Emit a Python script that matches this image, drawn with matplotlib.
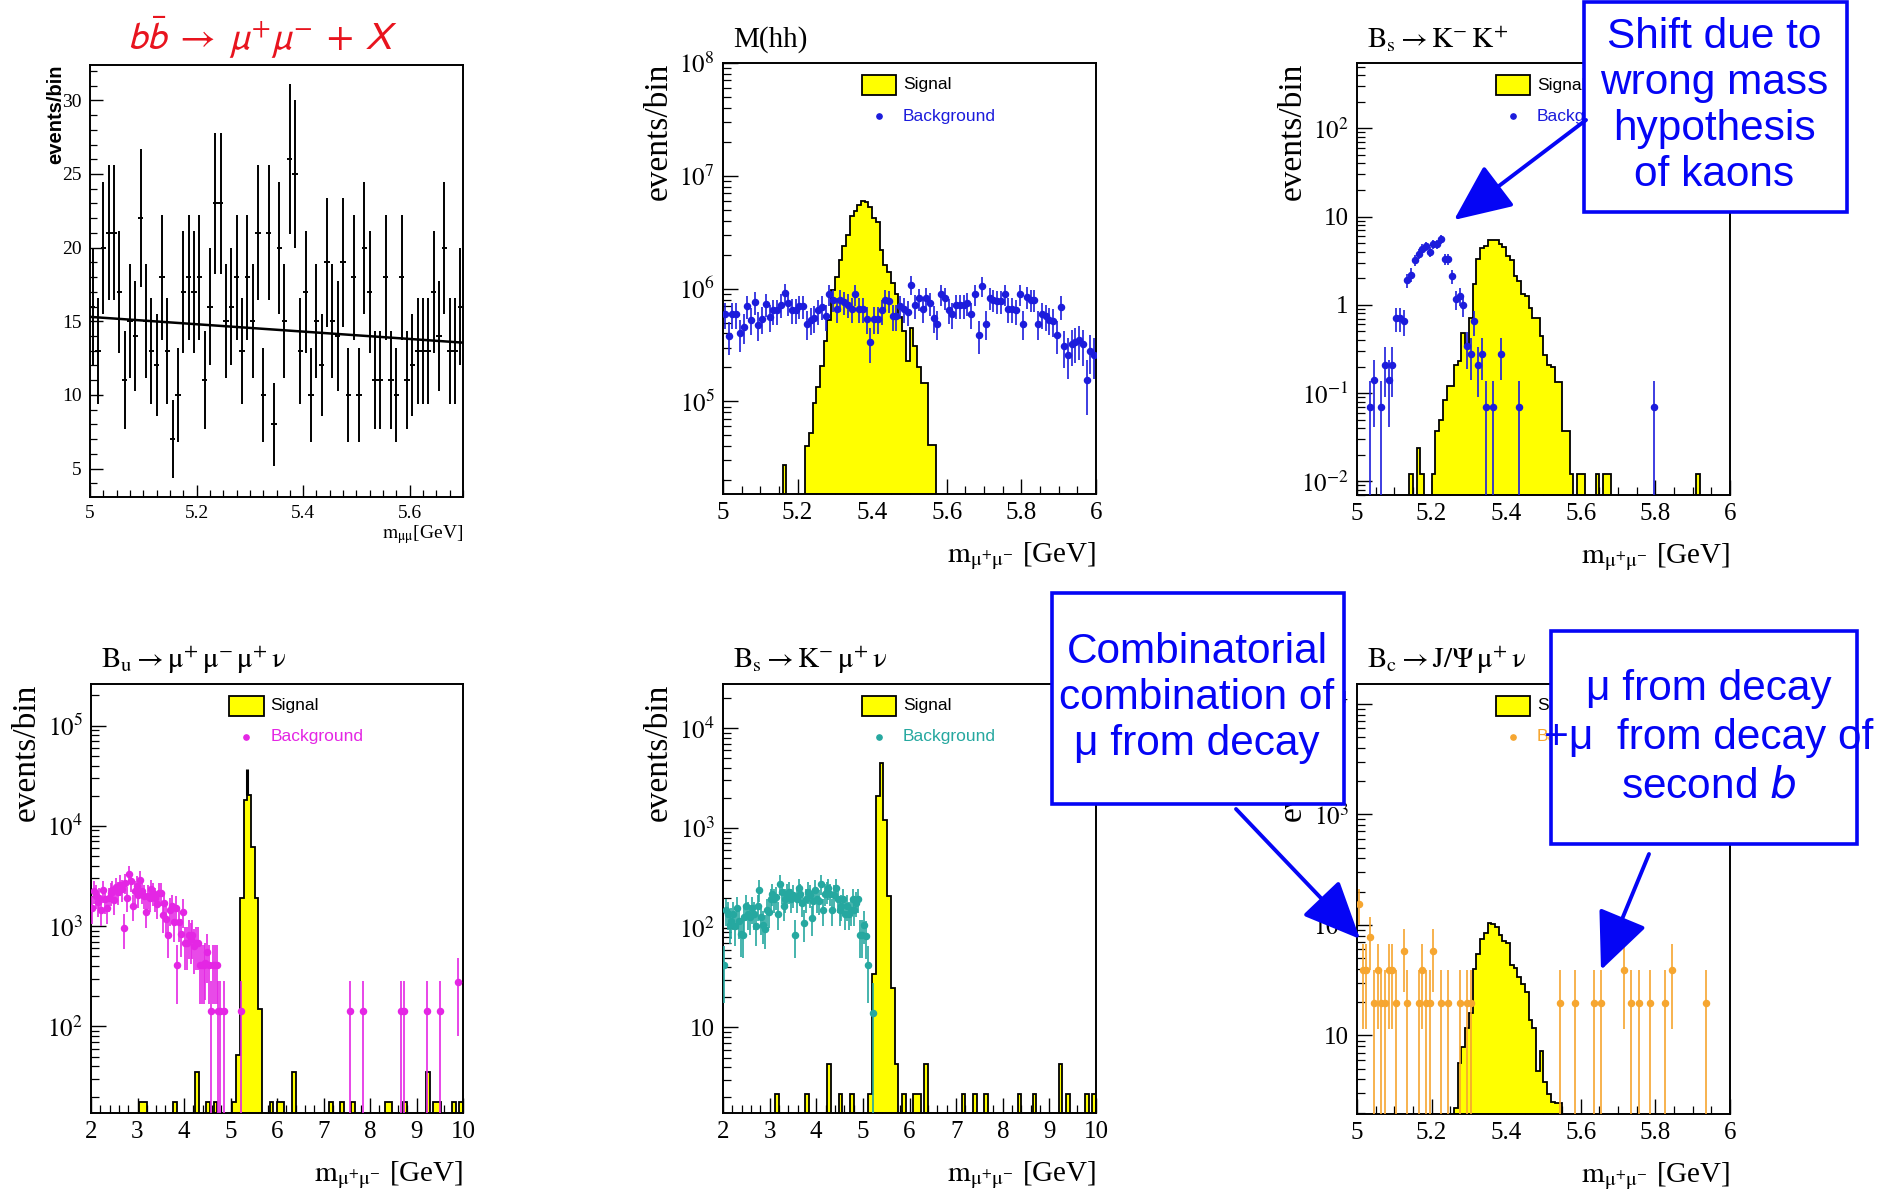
import numpy as np
import matplotlib
matplotlib.use("Agg")
import matplotlib.pyplot as plt
from matplotlib.patches import Rectangle, FancyArrowPatch
from matplotlib.ticker import MultipleLocator, LogLocator, FuncFormatter, NullFormatter, FormatStrFormatter

plt.rcParams['font.family'] = ['Liberation Serif', 'DejaVu Serif']
plt.rcParams['mathtext.fontset'] = 'stix'

# ------------------------------------------------------------------ data
# b bbar -> mu+ mu- + X : events per 0.01 GeV bin from 5.00 to 5.70 GeV
bb_lo, bb_width = 5.0, 0.01
bb_counts = [16, 13, 20, 21, 21, 17, 11, 15, 14, 22,
             15, 13, 12, 18, 13, 7, 10, 17, 18, 17,
             18, 11, 16, 23, 23, 15, 16, 18, 13, 18,
             15, 21, 10, 21, 8, 20, 15, 26, 25, 13,
             17, 10, 15, 12, 19, 15, 14, 19, 10, 18,
             10, 20, 17, 11, 11, 18, 11, 10, 18, 11,
             12, 13, 13, 13, 17, 14, 20, 13, 13, 16]
bb_fit_p0, bb_fit_p1 = 15.3, -2.5          # linear fit: p0 + p1 * (m - 5 GeV)

# M(hh): 0.01 GeV bins from 5 to 6 GeV
hh_lo, hh_width, hh_nbins = 5.0, 0.01, 100
hh_sig_bins = [16, 22, 23, 24, 25, 26, 27, 28, 29, 30, 31, 32, 33, 34, 35, 36, 37, 38,
               39, 40, 41, 42, 43, 44, 45, 46, 47, 48, 49, 50, 51, 52, 53, 54, 55, 56]
hh_sig_vals = [2.75e4, 4.05e4, 5.25e4, 9.6e4, 1.35e5, 2.05e5, 3.45e5, 5.3e5, 9.8e5, 1.27e6,
               1.8e6, 2.4e6, 3.0e6, 4.4e6, 4.9e6, 5.5e6, 6.0e6, 5.9e6, 5.3e6, 4.2e6,
               3.9e6, 2.2e6, 1.63e6, 1.4e6, 1.12e6, 8.9e5, 5.6e5, 4.2e5, 2.3e5, 4.5e5,
               3.1e5, 2.0e5, 1.45e5, 1.45e5, 4.1e4, 4.1e4]
hh_bkg_vals_e5 = [5.9, 3.8, 5.9, 5.9, 4.0, 4.6, 7.0, 5.3, 7.6, 4.8,
                  5.4, 7.3, 5.6, 6.4, 6.4, 7.2, 9.1, 7.4, 6.5, 6.5,
                  7.0, 7.0, 4.9, 5.3, 5.5, 6.4, 6.9, 5.7, 8.9, 8.0,
                  6.6, 8.0, 7.6, 7.2, 6.6, 8.9, 6.6, 6.6, 5.4, 3.35,
                  5.4, 5.4, 6.4, 8.0, 7.8, 5.7, 5.7, 7.0, 6.6, 6.2,
                  10.8, 7.1, 8.2, 6.6, 8.3, 7.4, 5.5, 4.9, 8.9, 8.3,
                  6.5, 5.9, 7.1, 7.1, 7.1, 7.4, 5.9, 8.9, 3.9, 10.5,
                  4.9, 8.3, 8.0, 7.7, 7.7, 8.9, 6.6, 6.6, 6.4, 8.9,
                  4.9, 8.4, 8.0, 8.0, 4.9, 5.9, 5.7, 5.3, 5.2, 3.9,
                  6.9, 3.1, 2.6, 3.2, 3.35, 3.5, 3.2, 1.54, 2.8, 2.6]
hh_bkg_weight = 4.0e4

# Bs -> K- K+ : 0.01 GeV bins from 5 to 6 GeV
kk_lo, kk_width, kk_nbins = 5.0, 0.01, 100
kk_sig_bins = [14, 16, 17, 20, 21, 22, 23, 24, 25, 26, 27, 28, 29, 30, 31, 32, 33, 34, 35,
               36, 37, 38, 39, 40, 41, 42, 43, 44, 45, 46, 47, 48, 49, 50, 51, 52, 53, 54,
               55, 56, 57, 59, 60, 64, 66, 67, 91]
kk_sig_vals = [0.012, 0.024, 0.012, 0.012, 0.037, 0.049, 0.083, 0.12, 0.12, 0.21, 0.23,
               0.48, 0.34, 0.71, 1.7, 3.3, 4.4, 4.6, 5.4, 5.4, 5.4, 4.9, 4.5, 3.6, 3.2,
               2.1, 1.86, 1.32, 1.26, 0.93, 0.71, 0.71, 0.44, 0.27, 0.21, 0.20, 0.135,
               0.135, 0.037, 0.037, 0.012, 0.012, 0.012, 0.012, 0.012, 0.012, 0.012]
kk_bkg_x = [5.035, 5.045, 5.065, 5.075, 5.085, 5.095, 5.105, 5.115, 5.125, 5.135,
            5.145, 5.155, 5.165, 5.175, 5.185, 5.195, 5.205, 5.215, 5.225, 5.235,
            5.245, 5.255, 5.265, 5.275, 5.285, 5.295, 5.305, 5.315, 5.325, 5.335,
            5.345, 5.365, 5.385, 5.435, 5.795]
kk_bkg_vals = [0.069, 0.14, 0.069, 0.21, 0.14, 0.21, 0.71, 0.71, 0.66, 1.9,
               2.2, 3.2, 3.8, 4.3, 4.6, 4.0, 4.9, 4.9, 5.5, 3.3,
               3.3, 2.1, 1.15, 1.26, 1.0, 0.34, 0.28, 0.65, 0.21, 0.28,
               0.069, 0.069, 0.28, 0.069, 0.069]
kk_bkg_weight = 0.069

# Bu -> mu+ mu- mu+ nu : 0.08 GeV bins from 2 to 10 GeV
bu_lo, bu_width, bu_nbins = 2.0, 0.08, 100
bu_sig_bins = [13, 14, 22, 28, 31, 33, 38, 39, 40, 41, 42, 43, 44, 45, 48, 50, 51, 54,
               64, 67, 70, 79, 80, 84, 90, 92, 93, 97, 99]
bu_sig_vals = [17.7, 17.7, 17.7, 35.4, 17.7, 17.7, 17.7, 52, 1900, 18000, 20500, 6200,
               1900, 150, 17.7, 17.7, 17.7, 35.4, 17.7, 17.7, 17.7, 17.7, 17.7, 17.7,
               35.4, 17.7, 17.7, 17.7, 17.7]
bu_peak_x, bu_peak_hi = 5.36, 3.7e4
bu_bkg_x0, bu_bkg_dx = 2.02, 0.04
bu_bkg_vals = [1530, 2230, 2020, 1730, 1890, 1460, 2270, 1850, 1530, 1890,
               2140, 2270, 1810, 2430, 2200, 2600, 2330, 960, 2690, 1920,
               3330, 2830, 1590, 2230, 2540, 2050, 2880, 2230, 2020, 1400,
               2020, 1890, 2330, 2140, 1890, 1660, 2140, 2140, 1290, 1710,
               1190, 820, 1460, 1590, 1090, 1530, 410, 1090, 840, 1400,
               680, 680, 810, 740, 810, 630, 680, 680, 410, 410,
               410, 430, 550, 410, 143, 410, 410, 410, 143, 143]
bu_bkg_extra_x = [4.86, 5.22, 7.58, 7.86, 8.66, 8.74, 9.22, 9.50, 9.90]
bu_bkg_extra_vals = [143, 143, 143, 143, 143, 143, 143, 143, 280]
bu_bkg_weight = 143

# Bs -> K- mu+ nu : 0.08 GeV bins from 2 to 10 GeV
bs_lo, bs_width, bs_nbins = 2.0, 0.08, 100
bs_sig_bins = [14, 22, 28, 31, 34, 39, 40, 41, 42, 43, 44, 45, 46, 48, 51, 52, 54,
               64, 67, 70, 79, 83, 90, 92, 97, 99]
bs_sig_vals = [2.15, 2.15, 4.3, 2.15, 2.15, 2.15, 34, 2100, 4500, 1200, 210, 25, 4.3,
               2.15, 2.15, 2.15, 4.3, 2.15, 2.15, 2.15, 2.15, 2.15, 4.3, 2.15, 2.15, 2.15]
bs_bkg_x0, bs_bkg_dx = 2.02, 0.04
bs_bkg_vals = [42, 150, 138, 107, 117, 138, 103, 157, 117, 86,
               84, 127, 164, 138, 127, 157, 138, 103, 164, 240,
               127, 107, 98, 150, 144, 194, 220, 194, 202, 138,
               272, 230, 164, 194, 220, 230, 194, 211, 84, 194,
               251, 220, 178, 112, 194, 230, 211, 125, 186, 240,
               194, 186, 272, 150, 220, 230, 251, 220, 150, 211,
               251, 194, 150, 164, 194, 138, 164, 138, 150, 194,
               150, 178, 194, 84, 84, 107, 83, 42]
bs_bkg_extra_x = [5.22]
bs_bkg_extra_vals = [14]
bs_bkg_weight = 14

# Bc -> J/Psi mu+ nu : 0.01 GeV bins from 5 to 6 GeV
bc_lo, bc_width, bc_nbins = 5.0, 0.01, 100
bc_sig_bins = list(range(26, 55))
bc_sig_vals = [2.2, 5.6, 7.8, 11.7, 16, 40, 55, 75, 85, 104, 102, 95, 81, 72, 69, 43,
               41, 34, 29, 24.5, 13.8, 11.7, 4.8, 7.2, 3.8, 2.95, 2.5, 2.45, 2.45]
bc_bkg_x = [5.005, 5.015, 5.025, 5.035, 5.045, 5.055, 5.065, 5.075, 5.085, 5.095,
            5.105, 5.125, 5.135, 5.165, 5.175, 5.185, 5.195, 5.205, 5.225, 5.245,
            5.275, 5.295, 5.305, 5.545, 5.585, 5.635, 5.655, 5.715, 5.735, 5.755,
            5.785, 5.825, 5.845, 5.935]
bc_bkg_vals = [156, 39, 39, 78, 19.5, 39, 19.5, 19.5, 39, 39,
               19.5, 58.5, 19.5, 19.5, 39, 19.5, 19.5, 58.5, 19.5, 19.5,
               19.5, 19.5, 19.5, 19.5, 19.5, 19.5, 19.5, 39, 19.5, 19.5,
               19.5, 19.5, 39, 19.5]
bc_bkg_weight = 19.5

# ------------------------------------------------------------------ style
W, H = 1887, 1199
YELLOW = '#ffff00'
BLUE_BOX = '#0505f5'
C_BLUE, C_MAG, C_TEAL, C_ORANGE = '#1c1cdc', '#e426e4', '#26a8a0', '#f6a630'
SANS = ['Liberation Sans', 'DejaVu Sans']
TICK_FS, LABEL_FS, YLABEL_FS = 18, 21, 24

fig = plt.figure(figsize=(W / 100, H / 100), dpi=100)
fig.patch.set_facecolor('white')


def px_axes(l, t, r, b):
    return fig.add_axes([l / W, 1 - b / H, (r - l) / W, (b - t) / H])


def fig_xy(x, y):
    return x / W, 1 - y / H


def root_frame(ax, fs=TICK_FS):
    ax.tick_params(which='both', direction='in', top=False, right=False,
                   labelsize=fs, pad=6)
    ax.tick_params(which='major', length=11, width=1.0)
    ax.tick_params(which='minor', length=6, width=0.9)
    for s in ax.spines.values():
        s.set_linewidth(1.4)


def log_label(v, pos):
    e = int(round(np.log10(v)))
    if e == 0:
        return '1'
    if e == 1:
        return '10'
    return r'$\mathrm{10^{%d}}$' % e


def log_axis(ax, ylo, yhi):
    ax.set_yscale('log')
    ax.set_ylim(ylo, yhi)
    ax.yaxis.set_major_locator(LogLocator(base=10, numticks=20))
    ax.yaxis.set_minor_locator(LogLocator(base=10, subs=np.arange(2, 10), numticks=20))
    ax.yaxis.set_major_formatter(FuncFormatter(log_label))
    ax.yaxis.set_minor_formatter(NullFormatter())


def draw_signal(ax, lo, width, nbins, bins, vals, base):
    h = np.full(nbins, base)
    h[np.asarray(bins)] = vals
    edges = lo + width * np.arange(nbins + 1)
    ax.stairs(h, edges, baseline=base, fill=True, color=YELLOW, zorder=2)
    ax.stairs(h, edges, baseline=base, color='black', lw=1.3, zorder=3)


def draw_points(ax, x, vals, weight, color, ybot, xerr):
    v = np.asarray(vals, dtype=float)
    err = np.sqrt(v * weight)
    lower = v - np.maximum(v - err, ybot * 0.3)
    ax.errorbar(x, v, yerr=[lower, err], xerr=xerr, fmt='o', ms=4.4, color=color,
                ecolor=color, elinewidth=1.2, capsize=0, zorder=4, clip_on=True)


def draw_legend(ax, color):
    ax.add_patch(Rectangle((0.372, 0.925), 0.092, 0.047, transform=ax.transAxes,
                           facecolor=YELLOW, edgecolor='black', lw=1.3, zorder=5))
    ax.text(0.482, 0.949, 'Signal', transform=ax.transAxes, fontsize=12.5,
            family=SANS, va='center', ha='left', zorder=5)
    ax.plot([0.418], [0.877], 'o', ms=3.8, color=color, transform=ax.transAxes,
            zorder=5, clip_on=False)
    ax.text(0.482, 0.877, 'Background', transform=ax.transAxes, fontsize=12.5,
            family=SANS, color=color, va='center', ha='left', zorder=5)


def labels(ax, title):
    w_px = ax.get_position().width * W
    h_px = ax.get_position().height * H
    ax.text(10 / w_px, 1 + 23 / h_px, title, transform=ax.transAxes,
            fontsize=LABEL_FS, ha='left', va='center')
    ax.text(-64 / w_px, 1.0, 'events/bin', transform=ax.transAxes, rotation=90,
            fontsize=YLABEL_FS, ha='center', va='top')
    ax.text(1.0, -62 / h_px, r'$\mathrm{m_{\mu^{+}\mu^{-}}}$ [GeV]',
            transform=ax.transAxes, fontsize=LABEL_FS, ha='right', va='center')


def narrow_x(ax, lo, hi):
    ax.set_xlim(lo, hi)
    ax.xaxis.set_major_locator(MultipleLocator(0.2))
    ax.xaxis.set_minor_locator(MultipleLocator(0.05))
    ax.xaxis.set_major_formatter(FormatStrFormatter('%g'))


def wide_x(ax):
    ax.set_xlim(2, 10)
    ax.xaxis.set_major_locator(MultipleLocator(1))
    ax.xaxis.set_minor_locator(MultipleLocator(0.2))
    ax.xaxis.set_major_formatter(FormatStrFormatter('%g'))


# ------------------------------------------------------------ panel 1
ax1 = px_axes(90, 65, 463, 497)
bb_x = bb_lo + bb_width * (np.arange(len(bb_counts)) + 0.5)
bb_y = np.asarray(bb_counts, dtype=float)
ax1.errorbar(bb_x, bb_y, yerr=np.sqrt(bb_y), xerr=bb_width / 2, fmt='none',
             ecolor='black', elinewidth=1.4, capsize=0, zorder=3)
fit_x = np.array([bb_lo, bb_lo + bb_width * len(bb_counts)])
ax1.plot(fit_x, bb_fit_p0 + bb_fit_p1 * (fit_x - bb_lo), color='black', lw=1.8, zorder=4)
ax1.set_xlim(5.0, 5.7)
ax1.set_ylim(3.07, 32.4)
ax1.xaxis.set_major_locator(MultipleLocator(0.2))
ax1.xaxis.set_minor_locator(MultipleLocator(0.025))
ax1.xaxis.set_major_formatter(FormatStrFormatter('%g'))
ax1.yaxis.set_major_locator(MultipleLocator(5))
ax1.yaxis.set_minor_locator(MultipleLocator(1))
root_frame(ax1, fs=14)
ax1.tick_params(which='major', length=9)
ax1.tick_params(which='minor', length=5)
ax1.text(-34 / 373, 1.0, 'events/bin', transform=ax1.transAxes, rotation=90,
         fontsize=14.5, fontweight='bold', family=SANS, ha='center', va='top')
ax1.text(1.0, -38 / 432, r'$\mathrm{m_{\mu\mu}}$[GeV]', transform=ax1.transAxes,
         fontsize=14, ha='right', va='center')
fig.text(*fig_xy(262, 38), r'$b\bar{b}\;\rightarrow\;\mu^{+}\mu^{-}\;+\,X$', color='#e8141e',
         fontsize=28, ha='center', va='center', math_fontfamily='stixsans')

# ------------------------------------------------------------ panel 2
ax2 = px_axes(723, 63, 1096, 494)
log_axis(ax2, 1.51e4, 1e8)
narrow_x(ax2, 5.0, 6.0)
draw_signal(ax2, hh_lo, hh_width, hh_nbins, hh_sig_bins, hh_sig_vals, 1e3)
hh_x = hh_lo + hh_width * (np.arange(len(hh_bkg_vals_e5)) + 0.5)
draw_points(ax2, hh_x, np.asarray(hh_bkg_vals_e5) * 1e5, hh_bkg_weight, C_BLUE, 1.51e4,
            hh_width / 2)
root_frame(ax2)
draw_legend(ax2, C_BLUE)
labels(ax2, 'M(hh)')

# ------------------------------------------------------------ panel 3
ax3 = px_axes(1357, 63, 1730, 495)
log_axis(ax3, 0.007, 550)
narrow_x(ax3, 5.0, 6.0)
draw_signal(ax3, kk_lo, kk_width, kk_nbins, kk_sig_bins, kk_sig_vals, 1e-4)
draw_points(ax3, kk_bkg_x, kk_bkg_vals, kk_bkg_weight, C_BLUE, 0.007, kk_width / 2)
root_frame(ax3)
draw_legend(ax3, C_BLUE)
labels(ax3, r'$\mathrm{B_{s}\rightarrow K^{-}\,K^{+}}$')

# ------------------------------------------------------------ panel 4
ax4 = px_axes(91, 684, 463, 1113)
log_axis(ax4, 13.7, 2.6e5)
wide_x(ax4)
draw_signal(ax4, bu_lo, bu_width, bu_nbins, bu_sig_bins, bu_sig_vals, 1.0)
ax4.vlines(bu_peak_x, max(bu_sig_vals), bu_peak_hi, color='black', lw=2.2, zorder=3)
bu_x = bu_bkg_x0 + bu_bkg_dx * np.arange(len(bu_bkg_vals))
draw_points(ax4, np.concatenate([bu_x, bu_bkg_extra_x]),
            bu_bkg_vals + bu_bkg_extra_vals, bu_bkg_weight, C_MAG, 13.7, bu_bkg_dx / 2)
root_frame(ax4)
draw_legend(ax4, C_MAG)
labels(ax4, r'$\mathrm{B_{u}\rightarrow \mu^{+}\,\mu^{-}\,\mu^{+}\,\nu}$')

# ------------------------------------------------------------ panel 5
ax5 = px_axes(723, 684, 1096, 1113)
log_axis(ax5, 1.39, 2.77e4)
wide_x(ax5)
draw_signal(ax5, bs_lo, bs_width, bs_nbins, bs_sig_bins, bs_sig_vals, 0.1)
bs_x = bs_bkg_x0 + bs_bkg_dx * np.arange(len(bs_bkg_vals))
draw_points(ax5, np.concatenate([bs_x, bs_bkg_extra_x]),
            bs_bkg_vals + bs_bkg_extra_vals, bs_bkg_weight, C_TEAL, 1.39, bs_bkg_dx / 2)
root_frame(ax5)
draw_legend(ax5, C_TEAL)
labels(ax5, r'$\mathrm{B_{s}\rightarrow K^{-}\,\mu^{+}\,\nu}$')

# ------------------------------------------------------------ panel 6
ax6 = px_axes(1357, 684, 1730, 1114)
log_axis(ax6, 1.95, 1.51e4)
narrow_x(ax6, 5.0, 6.0)
draw_signal(ax6, bc_lo, bc_width, bc_nbins, bc_sig_bins, bc_sig_vals, 0.1)
draw_points(ax6, bc_bkg_x, bc_bkg_vals, bc_bkg_weight, C_ORANGE, 1.95, bc_width / 2)
root_frame(ax6)
draw_legend(ax6, C_ORANGE)
labels(ax6, r'$\mathrm{B_{c}\rightarrow J/\Psi\,\mu^{+}\,\nu}$')

# ------------------------------------------------------------ call-out boxes
def callout(x0, y0, x1, y1, text, tx, ty, spacing):
    fx0, fy1 = fig_xy(x0, y1)
    fig.add_artist(Rectangle((fx0, fy1), (x1 - x0) / W, (y1 - y0) / H,
                             transform=fig.transFigure, facecolor='white',
                             edgecolor=BLUE_BOX, lw=2.6, zorder=20))
    fig.text(*fig_xy(tx, ty), text, color=BLUE_BOX, fontsize=30.5, family=SANS,
             ha='center', va='center', linespacing=spacing, zorder=21,
             math_fontfamily='dejavusans')


def arrow(x0, y0, x1, y1):
    fig.add_artist(FancyArrowPatch(fig_xy(x0, y0), fig_xy(x1, y1),
                                   transform=fig.transFigure, color=BLUE_BOX, lw=2.8,
                                   arrowstyle='-|>,head_length=1.8,head_width=0.8',
                                   mutation_scale=20, shrinkA=0, shrinkB=0, zorder=22))


callout(1584, 2, 1847, 212, 'Shift due to\nwrong mass\nhypothesis\nof kaons', 1714, 106, 1.2)
arrow(1586, 120, 1454, 220)
callout(1052, 593, 1344, 804, 'Combinatorial\ncombination of\n\u03bc from decay', 1197, 698, 1.2)
arrow(1236, 809, 1360, 939)
callout(1551, 631, 1857, 844, '\u03bc from decay\n+\u03bc  from decay of\nsecond $b$', 1709, 738, 1.28)
arrow(1649, 854, 1601, 970)

fig.savefig('out.png', dpi=100)
